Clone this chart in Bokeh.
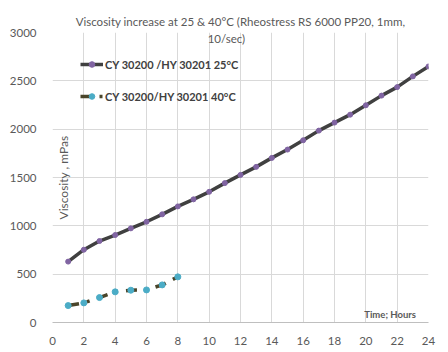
from bokeh.plotting import figure
from bokeh.models import Range1d, FixedTicker, Legend, LegendItem, Label
from bokeh.embed import file_html
from bokeh.resources import INLINE

# ---- data ----
hours_25 = [1, 2, 3, 4, 5, 6, 7, 8, 9, 10, 11, 12, 13, 14, 15, 16, 17, 18, 19, 20, 21, 22, 23, 24]
visc_25 = [630, 753, 843, 905, 974, 1042, 1119, 1201, 1274, 1352, 1442, 1527, 1610, 1703,
           1789, 1885, 1985, 2068, 2150, 2247, 2347, 2435, 2546, 2649]
hours_40 = [1, 2, 3, 4, 5, 6, 7, 8]
visc_40 = [175, 203, 258, 317, 334, 337, 389, 472]
x_ticks = list(range(0, 25, 2))
y_ticks = list(range(0, 3001, 500))
label_25 = "CY 30200 /HY 30201 25°C"
label_40 = "CY 30200/HY 30201 40°C"
title_1 = "Viscosity increase at 25 & 40°C (Rheostress RS 6000 PP20, 1mm,"
title_2 = "10/sec)"

FONT = "Lato"
TXT = "#595959"

p = figure(width=448, height=352, output_backend="svg", toolbar_location=None,
           x_range=Range1d(0, 24), y_range=Range1d(0, 3000),
           min_border_left=52, min_border_right=20, min_border_top=32, min_border_bottom=30)
p.outline_line_color = None
p.background_fill_color = "white"
p.border_fill_color = "white"

p.title.text = title_1
p.title.align = "center"
p.title.offset = -14
p.title.standoff = 10
p.title.text_font = FONT
p.title.text_font_size = "11.5px"
p.title.text_font_style = "normal"
p.title.text_color = TXT

p.xaxis.ticker = FixedTicker(ticks=x_ticks)
p.yaxis.ticker = FixedTicker(ticks=y_ticks)
for ax in (p.xaxis[0], p.yaxis[0]):
    ax.major_tick_line_color = None
    ax.minor_tick_line_color = None
    ax.major_label_text_font = FONT
    ax.major_label_text_font_size = "11.5px"
    ax.major_label_text_color = TXT
p.xaxis.axis_line_color = "#bfbfbf"
p.yaxis.axis_line_color = None
p.xaxis.major_label_standoff = 8
p.yaxis.major_label_standoff = 10
p.xgrid.grid_line_color = "#d9d9d9"
p.ygrid.grid_line_color = "#d9d9d9"

l25 = p.line(hours_25, visc_25, line_color="#404040", line_width=3.5)
s25 = p.scatter(hours_25, visc_25, size=5, fill_color="#8064a2", line_color="#8064a2")
l40 = p.line(hours_40, visc_40, line_color="#4a452a", line_width=3.5,
             line_dash="11 8 3 8")
s40 = p.scatter(hours_40, visc_40, size=6, fill_color="#4bacc6", line_color="#4bacc6")

legend = Legend(items=[LegendItem(label=label_25, renderers=[l25, s25]),
                       LegendItem(label=label_40, renderers=[l40, s40])],
                location=(28, 216), glyph_width=23, glyph_height=14, label_height=20,
                spacing=12, padding=0, margin=0, label_standoff=2,
                border_line_color=None, background_fill_alpha=0,
                label_text_font=FONT, label_text_font_size="11px",
                label_text_font_style="bold", label_text_color="#404040")
p.add_layout(legend)

p.add_layout(Label(x=11.1, y=2940, text=title_2, text_font=FONT, text_font_size="11.5px",
                   text_color=TXT, text_align="center", text_baseline="middle"))
p.add_layout(Label(x=0.72, y=1500, text="Viscosity , mPas", angle=90, angle_units="deg",
                   text_font=FONT, text_font_size="12px", text_color=TXT,
                   text_align="center", text_baseline="middle"))
p.add_layout(Label(x=23.2, y=85, text="Time; Hours", text_font=FONT, text_font_size="9.5px",
                   text_font_style="bold", text_color=TXT,
                   text_align="right", text_baseline="middle"))

open("out.html", "w").write(file_html(p, INLINE))
